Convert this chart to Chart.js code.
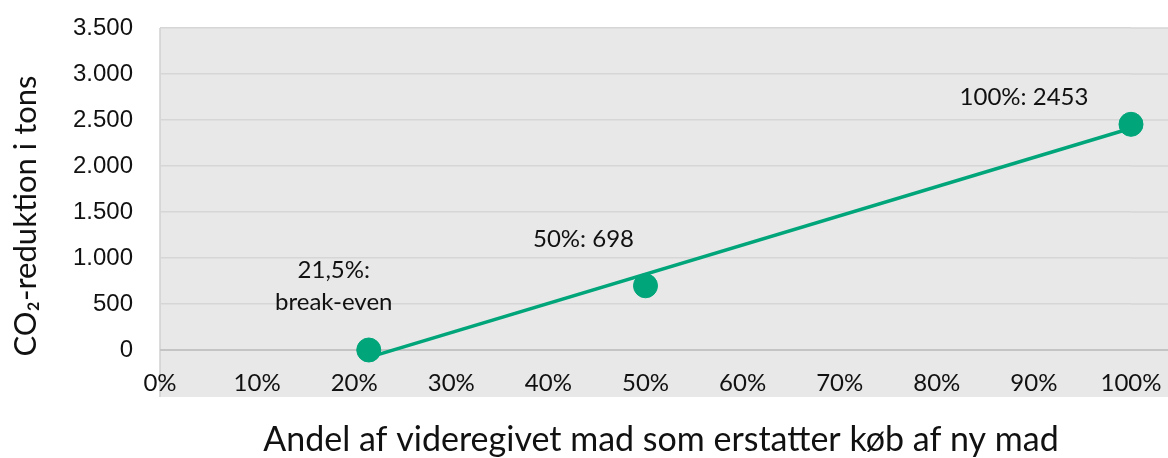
<!DOCTYPE html>
<html>
<head>
<meta charset="utf-8">
<script src="https://cdn.jsdelivr.net/npm/chart.js@4/dist/chart.umd.min.js"></script>
<style>
  html, body { margin: 0; padding: 0; background: #fff; }
  #wrap { width: 1168px; height: 458px; }
</style>
</head>
<body>
<div id="wrap"><canvas id="chart" width="1168" height="458"></canvas></div>
<script>
// data
var shareX = [21.5, 50, 100];            // andel i %
var co2Y = [0, 698, 2453];               // CO2-reduktion i tons
var pointLabels = [["21,5%:", "break-even"], ["50%: 698"], ["100%: 2453"]];
var trendX = [21.5, 100];
var trendY = [-80, 2410];
var yTitle = "CO\u2082-reduktion i tons";
var xTitle = "Andel af videregivet mad som erstatter køb af ny mad";

// label offsets (px) from each point
var labelOffsets = [[-35, -80], [-62, -47], [-107, -27]];

var green = "#00A57A";
var calib = "Lato, 'Open Sans', sans-serif";

var points = shareX.map(function (x, i) { return { x: x, y: co2Y[i] }; });
var trend = trendX.map(function (x, i) { return { x: x, y: trendY[i] }; });

function danish(v) {
    return String(v).replace(/\B(?=(\d{3})+(?!\d))/g, ".");
}

function gridColor(v) { return v === 0 ? "#c4c4c4" : "#d6d6d6"; }
function gridWidth(v) { return v === 0 ? 2 : 1.5; }

var bgPlugin = {
    id: "bg",
    beforeDraw: function (chart) {
        var ca = chart.chartArea, ctx = chart.ctx;
        ctx.save();
        ctx.fillStyle = "#e8e8e8";
        ctx.fillRect(ca.left, ca.top, chart.width - ca.left, ca.bottom + 47 - ca.top);
        ctx.strokeStyle = "#d0d0d0";
        ctx.lineWidth = 1.5;
        ctx.beginPath();
        ctx.moveTo(ca.left, ca.top);
        ctx.lineTo(ca.left, ca.bottom + 47);
        ctx.stroke();
        ctx.restore();
    },
    beforeDatasetsDraw: function (chart) {
        // gridlines run on past the last x tick to the edge
        var ca = chart.chartArea, ctx = chart.ctx, ys = chart.scales.y;
        ctx.save();
        ys.ticks.forEach(function (t) {
            var py = ys.getPixelForValue(t.value);
            ctx.strokeStyle = gridColor(t.value);
            ctx.lineWidth = gridWidth(t.value);
            ctx.beginPath();
            ctx.moveTo(ca.right, py);
            ctx.lineTo(chart.width, py);
            ctx.stroke();
        });
        ctx.restore();
    }
};

var textPlugin = {
    id: "texts",
    afterDraw: function (chart) {
        var ctx = chart.ctx;
        var xs = chart.scales.x, ys = chart.scales.y;
        ctx.save();
        ctx.fillStyle = "#111";
        ctx.textAlign = "center";
        ctx.textBaseline = "middle";
        ctx.font = "24px " + calib;
        pointLabels.forEach(function (lines, i) {
            var px = xs.getPixelForValue(shareX[i]) + labelOffsets[i][0];
            var py = ys.getPixelForValue(co2Y[i]) + labelOffsets[i][1];
            lines.forEach(function (t, j) {
                ctx.fillText(t, px, py + j * 32);
            });
        });
        // axis titles
        ctx.font = "34px " + calib;
        ctx.fillText(xTitle, 661, 440);
        ctx.translate(26, 216);
        ctx.rotate(-Math.PI / 2);
        ctx.font = "31px " + calib;
        ctx.fillText(yTitle, 0, 0);
        ctx.restore();
    }
};

new Chart(document.getElementById("chart"), {
    type: "scatter",
    data: {
        datasets: [{
            label: "punkter",
            data: points,
            backgroundColor: green,
            borderColor: green,
            pointRadius: 12,
            pointHoverRadius: 12,
            showLine: false,
            clip: false
        }, {
            label: "trend",
            data: trend,
            showLine: true,
            borderColor: green,
            borderWidth: 3.5,
            pointRadius: 0,
            clip: false
        }]
    },
    options: {
        responsive: false,
        animation: false,
        layout: { padding: { top: 28, right: 37, left: 0, bottom: 0 } },
        plugins: {
            legend: { display: false },
            tooltip: { enabled: false }
        },
        scales: {
            x: {
                type: "linear",
                min: 0,
                max: 100,
                ticks: {
                    stepSize: 10,
                    padding: 19,
                    color: "#111",
                    font: { family: calib, size: 24 },
                    callback: function (v) { return v + "%"; }
                },
                grid: { display: false, drawTicks: false },
                border: { display: false },
                afterFit: function (s) { s.height = 108; s.paddingLeft = 0; s.paddingRight = 0; }
            },
            y: {
                min: 0,
                max: 3500,
                ticks: {
                    stepSize: 500,
                    padding: 27,
                    color: "#111",
                    font: { family: "'Liberation Sans', Arial, sans-serif", size: 24 },
                    callback: function (v) { return danish(v); }
                },
                grid: {
                    drawTicks: false,
                    lineWidth: function (c) { return gridWidth(c.tick ? c.tick.value : 1); },
                    color: function (c) { return gridColor(c.tick ? c.tick.value : 1); }
                },
                border: { display: false },
                afterFit: function (s) { s.width = 160; s.paddingTop = 0; s.paddingBottom = 0; }
            }
        }
    },
    plugins: [bgPlugin, textPlugin]
});
</script>
</body>
</html>
